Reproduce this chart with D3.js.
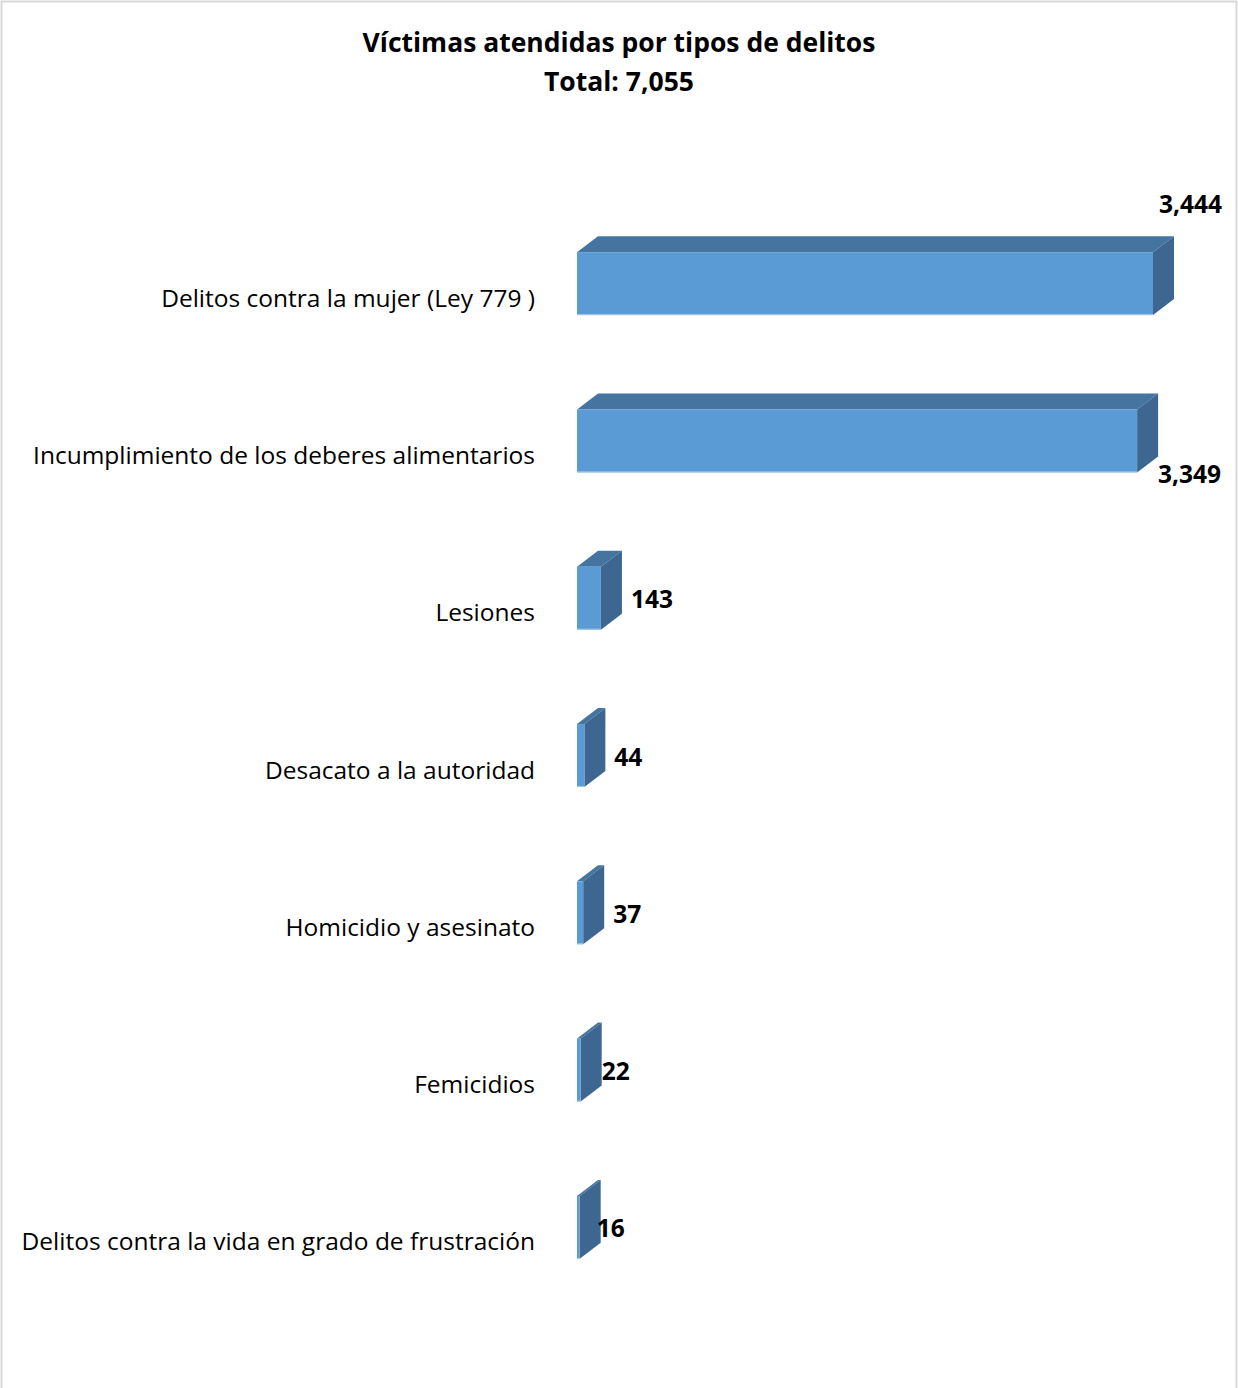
<!DOCTYPE html>
<html>
<head>
<meta charset="utf-8">
<script src="https://cdn.jsdelivr.net/npm/d3@7"></script>
<style>
  html, body { margin: 0; padding: 0; background: #fff; }
  svg { display: block; }
</style>
</head>
<body>
<script>
const titleLines = ["Víctimas atendidas por tipos de delitos", "Total: 7,055"];
const categories = [
  "Delitos contra la mujer (Ley 779 )",
  "Incumplimiento de los deberes alimentarios",
  "Lesiones",
  "Desacato a la autoridad",
  "Homicidio y asesinato",
  "Femicidios",
  "Delitos contra la vida en grado de frustración"
];
const values = [3444, 3349, 143, 44, 37, 22, 16];
const valueLabels = ["3,444", "3,349", "143", "44", "37", "22", "16"];

const W = 1238, H = 1388;
const font = "'Open Sans', sans-serif";
const svg = d3.select("body").append("svg").attr("width", W).attr("height", H);

svg.append("rect").attr("x", 1.5).attr("y", 1.5).attr("width", W - 3).attr("height", H + 10)
  .attr("fill", "#fff").attr("stroke", "#d9d9d9").attr("stroke-width", 2);

svg.append("text").attr("x", 619).attr("y", 52).attr("text-anchor", "middle")
  .attr("font-family", font).attr("font-weight", "bold").attr("font-size", 26.5)
  .attr("fill", "#000").text(titleLines[0]);
svg.append("text").attr("x", 619).attr("y", 91).attr("text-anchor", "middle")
  .attr("font-family", font).attr("font-weight", "bold").attr("font-size", 26.5)
  .attr("fill", "#000").text(titleLines[1]);

const x = d3.scaleLinear().domain([0, 3444]).range([577, 1153]);
const y = d3.scaleBand().domain(categories).range([205, 1306]).paddingInner(0.6).paddingOuter(0.3);
const dx = 21, dy = -16;

const g = svg.append("g");
categories.forEach((c, i) => {
  const v = values[i];
  const x0 = x(0), x1 = x(v);
  const yt = y(c), yb = y(c) + y.bandwidth();
  g.append("path")
    .attr("d", `M${x0},${yt} L${x0 + dx},${yt + dy} L${x1 + dx},${yt + dy} L${x1},${yt} Z`)
    .attr("fill", "#44749f");
  g.append("path")
    .attr("d", `M${x1},${yt} L${x1 + dx},${yt + dy} L${x1 + dx},${yb + dy} L${x1},${yb} Z`)
    .attr("fill", "#3d6690");
  g.append("rect").attr("x", x0).attr("y", yt).attr("width", x1 - x0).attr("height", yb - yt)
    .attr("fill", "#5b9bd5");
  g.append("line").attr("x1", x0).attr("x2", x1).attr("y1", yb - 0.5).attr("y2", yb - 0.5)
    .attr("stroke", "#a9c8e8").attr("stroke-width", 1);

  g.append("text").attr("x", 535).attr("y", (yt + yb) / 2 + 23)
    .attr("text-anchor", "end").attr("font-family", font).attr("font-size", 24.5)
    .attr("fill", "#000").text(c);

  const lab = g.append("text").attr("font-family", font).attr("font-weight", "bold")
    .attr("font-size", 24.5).attr("fill", "#000").text(valueLabels[i]);
  const yc = (yt + yb) / 2;
  if (i === 0) {
    lab.attr("x", x1 + 6).attr("y", yt + dy - 23);
  } else if (i === 1) {
    lab.attr("x", x1 + dx).attr("y", yb + 11);
  } else {
    const off = v > 30 ? 9 : 0;
    lab.attr("x", x1 + dx + off - (v < 20 ? 4 : 0)).attr("y", yc + 10);
  }
});
</script>
</body>
</html>
